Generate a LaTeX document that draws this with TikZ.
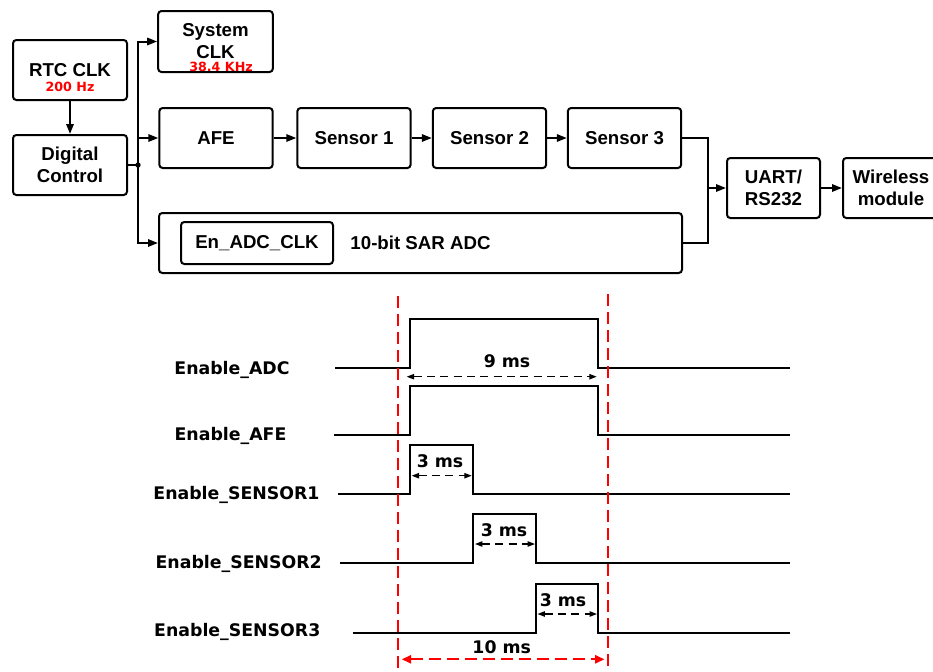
\documentclass[tikz,border=0pt]{standalone}
\usepackage{fontspec}
\setmainfont{Liberation Sans}
\newfontfamily\dejavu{DejaVu Sans}
\usetikzlibrary{arrows.meta}

\begin{document}
\begin{tikzpicture}[x=0.75pt,y=-0.75pt,
    blk/.style={draw,line width=1.5pt,rounded corners=2.5pt,align=center,inner sep=0pt,
        font=\bfseries\fontsize{14}{16.5}\selectfont},
    mid/.style={blk,minimum width=85pt,minimum height=45pt},
    hz/.style={text=red,anchor=base,inner sep=0pt,font=\dejavu\bfseries\fontsize{9.5}{11}\selectfont},
    tlabel/.style={anchor=base,inner sep=0pt,font=\dejavu\bfseries\fontsize{13}{15}\selectfont},
    wire/.style={line width=1.5pt},
    arr/.style={wire,-{Triangle[length=7.5pt,width=5.5pt]}},
    sig/.style={line width=1.5pt},
    dim/.style={line width=0.9pt,dash pattern=on 6pt off 4pt,{Triangle[length=5.5pt,width=4pt]}-{Triangle[length=5.5pt,width=4pt]}},
    reddash/.style={red,line width=1.6pt,dash pattern=on 9pt off 4.5pt}]
            \clip (0,0) rectangle (933,672);
            % block diagram
            \node[blk,minimum width=85.5pt,minimum height=45pt] (rtc) at (70,70) {RTC CLK};
            \node[hz] at (70,91.7) {200 Hz};
            \node[blk,minimum width=85.5pt,minimum height=45pt] (dig) at (70,165) {Digital\\Control};
            \node[blk,minimum width=86pt,minimum height=45.75pt] (sys) at (215.5,41.5) {System\\CLK};
            \node[hz] at (221,71.5) {38.4 KHz};
            \node[mid] (afe) at (216,138) {AFE};
            \node[mid] (s1) at (354,138) {Sensor 1};
            \node[mid] (s2) at (489.5,138) {Sensor 2};
            \node[mid] (s3) at (624.5,138) {Sensor 3};
            \node[mid,minimum width=392.25pt] (adc) at (420.5,243) {10-bit SAR ADC};
            \node[mid,minimum width=114pt,minimum height=31.5pt] (enclk) at (257,243) {En\_ADC\_CLK};
            \node[blk,minimum width=69.75pt,minimum height=45pt] (uart) at (773.5,188) {UART/\\RS232};
            \node[blk,minimum width=72pt,minimum height=45pt] (wl) at (891,188) {Wireless\\module};

            \coordinate (bus) at (138,165);
            \coordinate (join) at (708,188);
            \draw[arr] (rtc) -- (dig);
            \draw[wire] (dig.east) -- (bus);
            \fill (bus) circle (2pt);
            \draw[arr] (bus) |- (sys.west);
            \draw[arr] (bus) |- (afe.west);
            \draw[arr] (bus) |- (adc.west);
            \draw[arr] (afe) -- (s1);
            \draw[arr] (s1) -- (s2);
            \draw[arr] (s2) -- (s3);
            \draw[wire] (s3.east) -| (join) |- (adc.east);
            \draw[arr] (join) -- (uart);
            \draw[arr] (uart) -- (wl);

            % timing diagram
            \node[tlabel] (eadc) at (232,374.3) {Enable\_ADC};
            \node[tlabel] (eafe) at (230.5,440.7) {Enable\_AFE};
            \node[tlabel] (es1) at (236.5,499.5) {Enable\_SENSOR1};
            \node[tlabel] (es2) at (238.7,568) {Enable\_SENSOR2};
            \node[tlabel] (es3) at (237.3,636) {Enable\_SENSOR3};

            \draw[sig] (335,368.3) -- (409.5,368.3) -- (409.5,319.3) -- (597.5,319.3) -- (597.5,368.3) -- (790,368.3);
            \draw[sig] (334,435) -- (409.5,435) -- (409.5,386) -- (598,386) -- (598,435) -- (790,435);
            \draw[sig] (338,494) -- (410,494) -- (410,445) -- (473.3,445) -- (473.3,494) -- (790,494);
            \draw[sig] (340,563) -- (473.3,563) -- (473.3,514) -- (535.7,514) -- (535.7,563) -- (790,563);
            \draw[sig] (352.7,633.3) -- (535.7,633.3) -- (535.7,584.3) -- (598.3,584.3) -- (598.3,633.3) -- (790,633.3);

            \draw[reddash] (398.3,296) -- (398.3,672);
            \draw[reddash] (608.3,294) -- (608.3,672);

            \draw[dim] (406.7,376.7) -- (596.7,376.7);
            \node[tlabel] (t9) at (507,367.5) {9 ms};
            \draw[dim] (411.7,475.7) -- (471.7,475.7);
            \node[tlabel] (t3a) at (440,467) {3 ms};
            \draw[dim] (475,544) -- (535,544);
            \node[tlabel] (t3b) at (504,536) {3 ms};
            \draw[dim] (537.5,614) -- (597,614);
            \node[tlabel] (t3c) at (563,606) {3 ms};
            \draw[reddash,{Triangle[length=7pt,width=6pt]}-{Triangle[length=7pt,width=6pt]}] (401.7,659.3) -- (604.5,659.3);
            \node[tlabel] (t10) at (501.7,653) {10 ms};
\end{tikzpicture}
\end{document}
